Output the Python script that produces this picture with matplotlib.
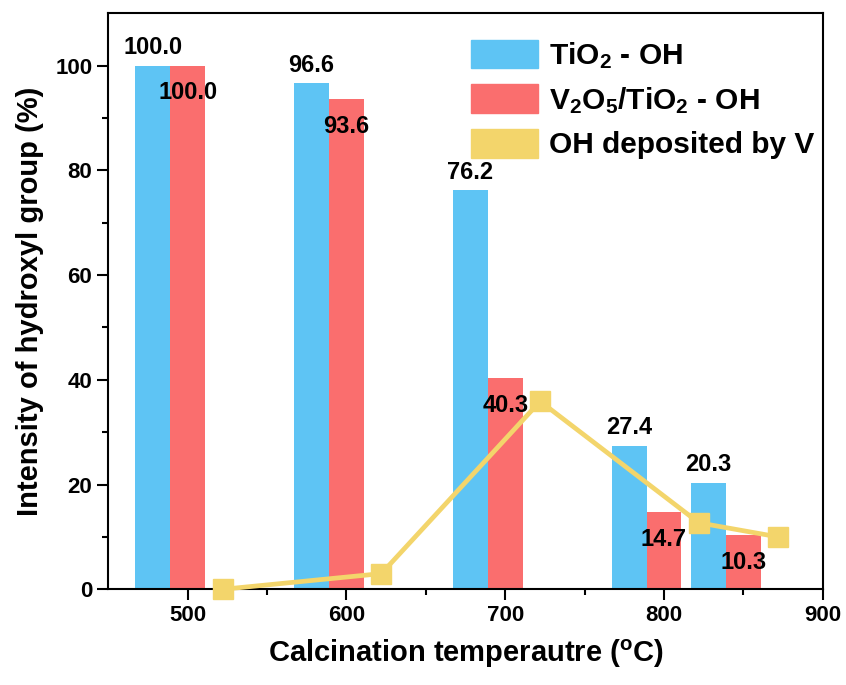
import numpy as np
import matplotlib
matplotlib.use('Agg')
import matplotlib.pyplot as plt
from matplotlib.patches import Patch

plt.rcParams['font.family'] = ['Liberation Sans', 'DejaVu Sans']
plt.rcParams['font.weight'] = 'bold'
plt.rcParams['mathtext.fontset'] = 'custom'
plt.rcParams['mathtext.rm'] = 'Liberation Sans:bold'
plt.rcParams['mathtext.it'] = 'Liberation Sans:bold'
plt.rcParams['mathtext.bf'] = 'Liberation Sans:bold'
plt.rcParams['mathtext.default'] = 'rm'

temps = [500, 600, 700, 800, 850]
tio2_oh = [100.0, 96.6, 76.2, 27.4, 20.3]
v2o5_oh = [100.0, 93.6, 40.3, 14.7, 10.3]
oh_by_v = [0.0, 3.0, 35.9, 12.7, 10.0]

blue = '#5EC4F4'
red = '#FA6E6E'
yellow = '#F3D56B'

w = 22
x = np.array(temps)

fig = plt.figure(figsize=(8.46, 6.85), dpi=100)
ax = fig.add_axes([0.128, 0.1397, 0.8445, 0.8409])

ax.bar(x - w, tio2_oh, width=w, color=blue, zorder=2)
ax.bar(x, v2o5_oh, width=w, color=red, zorder=2)
ax.plot(x + w, oh_by_v, color=yellow, lw=3.4, marker='s', markersize=15,
        zorder=4, clip_on=False)

for xi, v in zip(x - w, tio2_oh):
    ax.annotate(f'{v:.1f}', (xi, v), xytext=(0, 13), textcoords='offset points',
                ha='center', va='center', fontsize=17, fontweight='bold', zorder=5)
for xi, v in zip(x, v2o5_oh):
    ax.annotate(f'{v:.1f}', (xi, v), xytext=(0, -19.5), textcoords='offset points',
                ha='center', va='center', fontsize=17, fontweight='bold', zorder=3)

ax.set_xlim(450, 900)
ax.set_ylim(0, 110)
ax.set_xticks([500, 600, 700, 800, 900])
ax.set_xticks([550, 650, 750, 850], minor=True)
ax.set_yticks([0, 20, 40, 60, 80, 100])
ax.set_yticks([10, 30, 50, 70, 90], minor=True)
ax.tick_params(which='major', direction='out', length=8, width=1.5, labelsize=16)
ax.tick_params(which='minor', direction='out', length=4.5, width=1.5)
for s in ax.spines.values():
    s.set_linewidth(1.5)

ax.set_xlabel('Calcination temperautre ($^{o}$C)', fontsize=21, fontweight='bold', labelpad=8)
ax.set_ylabel('Intensity of hydroxyl group (%)', fontsize=21, fontweight='bold', labelpad=8)

handles = [Patch(color=blue), Patch(color=red), Patch(color=yellow)]
labels = ['TiO$_2$ - OH', 'V$_2$O$_5$/TiO$_2$ - OH', 'OH deposited by V']
ax.legend(handles, labels, loc='upper right', bbox_to_anchor=(1.0, 0.97),
          frameon=False, fontsize=21.5,
          handlelength=2.25, handleheight=1.1, handletextpad=0.35,
          labelspacing=0.45, borderaxespad=0.0, borderpad=0.3)

fig.savefig('out.png', dpi=100)
